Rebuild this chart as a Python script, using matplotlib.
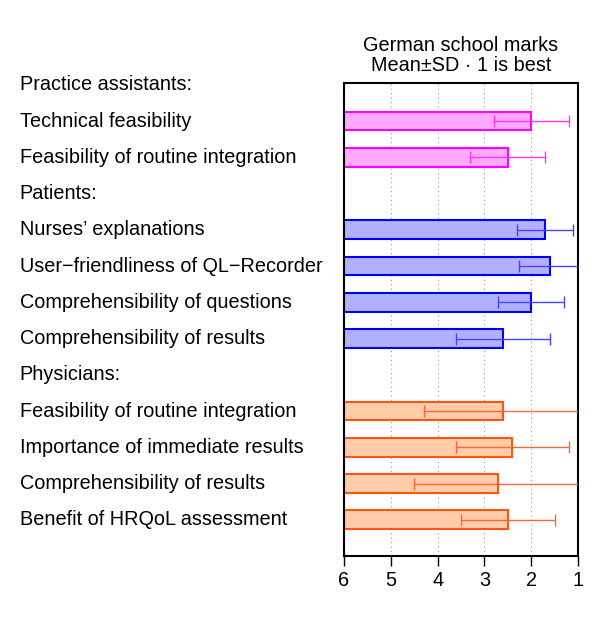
import matplotlib.pyplot as plt
import matplotlib.transforms as mtransforms

plt.rcParams['font.family'] = ['Liberation Sans', 'DejaVu Sans']

# rows from top to bottom; None = group header (no bar)
labels = ['Practice assistants:',
          'Technical feasibility',
          'Feasibility of routine integration',
          'Patients:',
          'Nurses\u2019 explanations',
          'User\u2212friendliness of QL\u2212Recorder',
          'Comprehensibility of questions',
          'Comprehensibility of results',
          'Physicians:',
          'Feasibility of routine integration',
          'Importance of immediate results',
          'Comprehensibility of results',
          'Benefit of HRQoL assessment']
means = [None, 2.0, 2.5, None, 1.7, 1.6, 2.0, 2.6, None, 2.6, 2.4, 2.7, 2.5]
sds = [None, 0.8, 0.8, None, 0.6, 0.65, 0.7, 1.0, None, 1.7, 1.2, 1.8, 1.0]
groups = [None, 'pa', 'pa', None, 'pt', 'pt', 'pt', 'pt', None, 'ph', 'ph', 'ph', 'ph']

fills = {'pa': '#FFAAFF', 'pt': '#B0B0FF', 'ph': '#FFCCAA'}
edges = {'pa': '#FF00FF', 'pt': '#0000FF', 'ph': '#FF5511'}
errcols = {'pa': '#FF33FF', 'pt': '#4444FF', 'ph': '#FF6633'}

fs = 14.3

fig = plt.figure(figsize=(6, 6.38), dpi=100)
ax = fig.add_axes([0.5733, 0.1285, 0.39, 0.7414])

for i, (m, s, g) in enumerate(zip(means, sds, groups)):
    if m is None:
        continue
    ax.barh(i, m - 6, left=6, height=0.52, color=fills[g],
            edgecolor=edges[g], linewidth=1.5, zorder=2)
    ax.errorbar(m, i, xerr=s, color=errcols[g], linewidth=1,
                capsize=4, capthick=1, zorder=3)

trans = mtransforms.blended_transform_factory(fig.transFigure, ax.transData)
for i, lab in enumerate(labels):
    ax.text(0.033, i, lab, transform=trans, fontsize=fs, va='center', ha='left')

ax.set_xlim(6, 1)
ax.set_ylim(13.0, -0.05)
ax.set_yticks([])
ax.set_xticks([6, 5, 4, 3, 2, 1])
ax.tick_params(axis='x', direction='out', length=7, width=1, labelsize=fs, pad=4)
for x in [5, 4, 3, 2]:
    ax.axvline(x, color='#999999', linestyle=(0, (1, 3)), linewidth=0.8, zorder=1)
for sp in ax.spines.values():
    sp.set_linewidth(1.5)

ax.set_title('German school marks\nMean\u00b1SD \u00b7 1 is best', fontsize=fs,
             pad=9, linespacing=1.05)

fig.savefig('out.png', dpi=100)
